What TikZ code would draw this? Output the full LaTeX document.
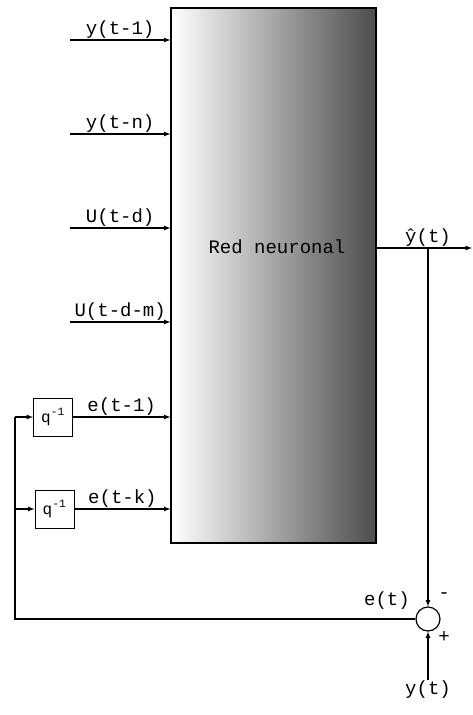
\documentclass[tikz,border=0pt]{standalone}
\usepackage{fontspec}
\setmonofont{Liberation Mono}
\usetikzlibrary{arrows,positioning,calc}

\begin{document}
\begin{tikzpicture}[x=1pt, y=-1pt,
    net/.style={rectangle, draw, line width=1.2pt, left color=white, right color=black!70, minimum width=205pt, minimum height=535pt, inner sep=0pt},
    delay/.style={rectangle, draw, line width=1pt, minimum width=39pt, minimum height=38pt, inner sep=0pt, font=\ttfamily\fontsize{16}{18}\selectfont},
    sum/.style={circle, draw, line width=1.2pt, minimum size=24pt, inner sep=0pt},
    arrow/.style={-latex, line width=1.2pt},
    lbl/.style={font=\ttfamily\fontsize{19}{21}\selectfont, inner sep=1pt}
  ]
    \useasboundingbox (0,0) rectangle (472,715);

    \node[net] (net) at (273.5,275.5) {};
    \node[lbl] (netname) at (277,247) {Red neuronal};

    % entradas
    \coordinate (y1) at (70,40);
    \coordinate (yn) at (70,134);
    \coordinate (u1) at (70,228);
    \coordinate (um) at (70,322);
    \draw[arrow] (y1) -- (y1 -| net.west) node[midway, above, lbl] (ly1) {y(t-1)};
    \draw[arrow] (yn) -- (yn -| net.west) node[midway, above, lbl] (lyn) {y(t-n)};
    \draw[arrow] (u1) -- (u1 -| net.west) node[midway, above, lbl] (lu1) {U(t-d)};
    \draw[arrow] (um) -- (um -| net.west) node[midway, above, lbl] (lum) {U(t-d-m)};

    % retardos del error
    \node[delay] (q1) at (53,417) {q\textsuperscript{-1}};
    \node[delay] (q2) at (54.5,509) {q\textsuperscript{-1}};
    \draw[arrow] (q1) -- (q1 -| net.west) node[midway, above, lbl] (le1) {e(t-1)};
    \draw[arrow] (q2) -- (q2 -| net.west) node[midway, above, lbl] (lek) {e(t-k)};

    % salida y comparador
    \node[sum] (sum) at (428,619) {};
    \coordinate (out) at (472,248);
    \coordinate (tap) at (428,248);
    \draw[arrow] (out -| net.east) -- (out);
    \node[lbl, above] (lyhat) at (tap) {ŷ(t)};
    \draw[arrow] (tap) -- (sum.north);
    \coordinate (yin) at (428,680);
    \draw[arrow] (yin) -- (sum.south);
    \node[lbl, below] (lyt) at (yin) {y(t)};
    \node[lbl] (let) at (387,601) {e(t)};
    \node[lbl] (minus) at (444,596) {-};
    \node[lbl] (plus) at (444,637) {+};

    % realimentacion
    \coordinate (fb) at (15,619);
    \draw[line width=1.2pt] (sum.west) -- (fb) -- (fb |- q1);
    \draw[arrow] (fb |- q1) -- (q1.west);
    \draw[arrow] (fb |- q2) -- (q2.west);
  \end{tikzpicture}
\end{document}
